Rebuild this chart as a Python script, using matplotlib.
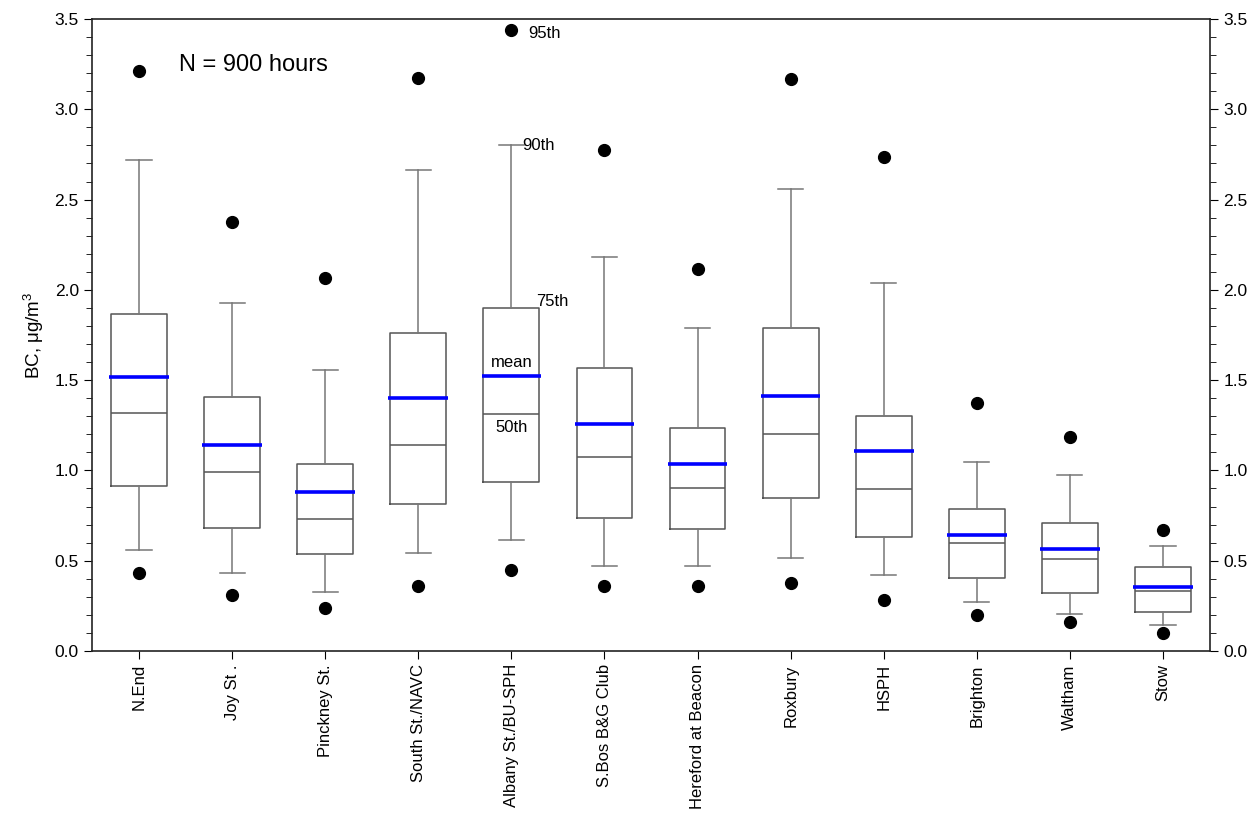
import matplotlib.pyplot as plt
from matplotlib.ticker import MultipleLocator

plt.rcParams['font.family'] = ['Liberation Sans', 'DejaVu Sans']
plt.rcParams['mathtext.fontset'] = 'custom'
plt.rcParams['mathtext.rm'] = 'Liberation Sans'
plt.rcParams['mathtext.it'] = 'Liberation Sans:italic'

# station names
sites = ['N.End', 'Joy St .', 'Pinckney St.', 'South St./NAVC', 'Albany St./BU-SPH',
         'S.Bos B&G Club', 'Hereford at Beacon', 'Roxbury', 'HSPH', 'Brighton',
         'Waltham', 'Stow']

# percentiles (ug/m3)
p5 = [0.434, 0.31, 0.238, 0.36, 0.449, 0.36, 0.36, 0.376, 0.28, 0.20, 0.159, 0.10]
p10 = [0.557, 0.434, 0.325, 0.544, 0.615, 0.47, 0.47, 0.515, 0.42, 0.27, 0.205, 0.144]
p25 = [0.914, 0.681, 0.536, 0.814, 0.936, 0.736, 0.675, 0.85, 0.633, 0.406, 0.323, 0.218]
p50 = [1.318, 0.991, 0.731, 1.141, 1.312, 1.074, 0.90, 1.20, 0.895, 0.60, 0.508, 0.33]
means = [1.517, 1.142, 0.880, 1.403, 1.523, 1.257, 1.035, 1.41, 1.107, 0.644, 0.566, 0.353]
p75 = [1.866, 1.408, 1.035, 1.759, 1.898, 1.569, 1.235, 1.79, 1.303, 0.786, 0.71, 0.463]
p90 = [2.72, 1.929, 1.554, 2.663, 2.80, 2.18, 1.79, 2.56, 2.04, 1.048, 0.975, 0.581]
p95 = [3.21, 2.377, 2.067, 3.175, 3.44, 2.774, 2.115, 3.17, 2.735, 1.372, 1.185, 0.672]

positions = list(range(1, len(sites) + 1))

stats = []
for i in range(len(sites)):
    stats.append({'whislo': p10[i], 'q1': p25[i], 'med': p50[i], 'q3': p75[i],
                  'whishi': p90[i], 'fliers': []})

fig = plt.figure(figsize=(12.6, 8.15), dpi=100)
ax = fig.add_axes([92 / 1260, 1 - 651 / 815, 1118 / 1260, 632 / 815])

ax.bxp(stats, positions=positions, widths=0.6, capwidths=0.27, showfliers=False,
       boxprops=dict(color='#555555', linewidth=1.1),
       medianprops=dict(color='#555555', linewidth=1.1),
       whiskerprops=dict(color='#777777', linewidth=1.1),
       capprops=dict(color='#777777', linewidth=1.1))

# mean lines
ax.hlines(means, [p - 0.32 for p in positions], [p + 0.32 for p in positions],
          colors='#0000ff', linewidth=2.6, zorder=3)

# 5th / 95th percentile dots
ax.plot(positions, p5, 'o', color='black', markersize=8.5, zorder=4)
ax.plot(positions, p95, 'o', color='black', markersize=8.5, zorder=4)

ax.set_xlim(0.495, 12.505)
ax.set_ylim(0, 3.5)
ax.set_xticks(positions)
ax.set_xticklabels(sites, rotation=90, fontsize=12)
ax.yaxis.set_major_locator(MultipleLocator(0.5))
ax.yaxis.set_minor_locator(MultipleLocator(0.1))
ax.yaxis.set_major_formatter(plt.FormatStrFormatter('%.1f'))
ax.tick_params(axis='y', which='both', direction='out', right=True, labelright=True,
               labelsize=12.5)
ax.tick_params(axis='y', which='major', length=6)
ax.tick_params(axis='y', which='minor', length=4)
ax.tick_params(axis='x', direction='out', length=6, labelsize=12)
for s in ax.spines.values():
    s.set_linewidth(1.2)
    s.set_color('#222222')

ax.set_ylabel('BC, $\\mathregular{\\mu g/m^3}$', fontsize=13.5, labelpad=6)

# percentile annotations on the Albany box
ax.text(5.18, 3.42, '95th', fontsize=12, va='center', ha='left')
ax.text(5.12, 2.80, '90th', fontsize=12, va='center', ha='left')
ax.text(5.27, 1.934, '75th', fontsize=12, va='center', ha='left')
ax.text(5.0, 1.60, 'mean', fontsize=12, va='center', ha='center')
ax.text(5.0, 1.235, '50th', fontsize=12, va='center', ha='center')

ax.text(1.43, 3.245, 'N = 900 hours', fontsize=17, va='center', ha='left')

fig.savefig('out.png', dpi=100)
